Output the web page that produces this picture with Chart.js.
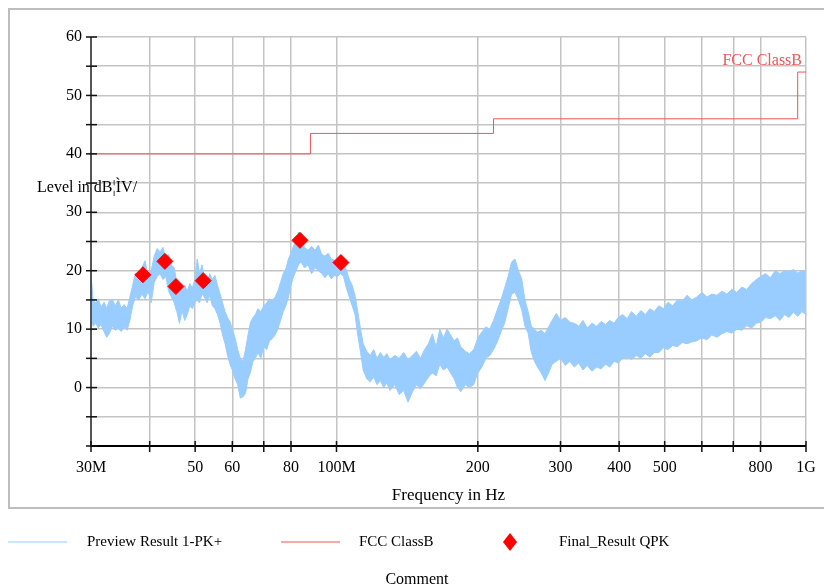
<!DOCTYPE html>
<html>
<head>
<meta charset="utf-8">
<script src="https://cdn.jsdelivr.net/npm/chart.js@4.4.1/dist/chart.umd.min.js"></script>
<style>
  html, body { margin: 0; padding: 0; background: #fff; }
  #wrap { position: relative; width: 824px; height: 588px; overflow: hidden; }
  #frame { position: absolute; left: 8px; top: 8px; width: 840px; height: 501px; border: 2px solid #bdbdbd; box-sizing: border-box; }
  #chart { position: absolute; left: 0; top: 0; }
</style>
</head>
<body>
<div id="wrap">
  <div id="frame"></div>
  <canvas id="chart" width="824" height="588"></canvas>
</div>
<script>
// Preview Result 1-PK+ : frequency (MHz) with upper / lower edge of the noisy trace (dBuV/m)
const previewFreq = [30, 30.3, 30.7, 31.1, 31.5, 32.0, 32.4, 32.8, 33.3, 33.8, 34.3, 34.8, 35.3, 35.8, 36.3, 36.8, 37.3, 37.9, 38.5, 39.1,
  39.7, 40.3, 40.9, 41.5, 42.1, 42.7, 43.3, 43.9, 44.5, 45.1, 45.7, 46.3, 46.9, 47.5, 48.1, 48.7, 49.3, 49.9, 50.5, 51.1,
  51.7, 52.3, 53, 53.7, 54.4, 55.1, 55.8, 56.5, 57.2, 57.9, 58.6, 59.3, 60, 60.8, 61.6, 62.4, 63.2, 64, 64.8, 65.6,
  66.4, 67.2, 68, 69, 70, 71, 72, 73, 74, 75, 76, 77, 78, 79, 80, 81, 82, 83, 84, 85.5,
  87, 88.5, 90, 91.5, 93, 94.5, 96, 97.5, 99, 100.5, 102, 103.5, 105, 106.5, 108, 109.5, 111, 112.5, 114, 116,
  118, 120, 122, 124, 126, 128, 130, 133, 136, 139, 142, 145, 148, 151, 154, 157, 160, 163, 166, 169,
  172, 175, 178, 181, 184, 188, 192, 196, 200, 204, 208, 212, 216, 220, 224, 228, 232, 236, 240, 244,
  248, 252, 256, 260, 264, 268, 273, 278, 283, 288, 294, 300, 307, 314, 321, 328, 335, 342, 350, 358,
  366, 374, 382, 390, 398, 407, 416, 425, 435, 445, 455, 465, 475, 486, 497, 508, 520, 532, 545, 558,
  571, 585, 600, 615, 630, 646, 662, 678, 695, 712, 730, 748, 766, 784, 800, 820, 840, 860, 880, 900,
  920, 940, 960, 980, 1000];
const previewHigh = [19.5, 15, 14.5, 15.2, 13.8, 14.6, 13.5, 14.8, 15.1, 14, 15, 13.6, 14.2, 13.5, 15.5, 17.5, 19.6, 18.8, 20.5, 21.7,
  19, 20, 22.5, 23.8, 23.2, 24, 22, 22.8, 21, 20.5, 18, 17.5, 16.8, 17.5, 16.5, 17.8, 17, 18.5, 22, 19.5,
  21, 19, 18, 19.5, 18.5, 19.2, 17.5, 16, 14.5, 13, 12, 11.3, 10, 8.5, 6.5, 5, 4.5, 6.5, 9, 11.2,
  12, 12.5, 13.5, 13, 14, 14.5, 15.2, 14.8, 15.5, 16.5, 18, 19.5, 20.3, 22, 23, 24.3, 25, 26.6, 25.5, 24,
  23.5, 24.2, 23.5, 24.4, 22.8, 22.5, 23, 22, 21.8, 21.5, 22.5, 21.5, 20, 18.5, 17.5, 15.8, 13, 10, 7.5, 6.2,
  5.5, 6.5, 5, 6, 5.2, 5.8, 4.8, 5.5, 5, 6, 4.8, 5.5, 6.2, 5, 6.5, 7.5, 9.2, 7, 10, 8.5,
  10, 9, 8, 8.5, 7, 6.2, 5.8, 6.5, 8.5, 9.5, 10.4, 10, 11.5, 13.3, 15, 17, 19, 21.5, 22, 20,
  18.6, 15, 13, 10.5, 10, 9.5, 9.8, 9.2, 10.4, 11.5, 12.7, 11.5, 12, 11.2, 11, 10.5, 11.5, 10.2, 11, 10.5,
  11.3, 10.8, 11.5, 11, 12, 12.5, 11.8, 13, 12.2, 13.2, 12.5, 13.5, 13, 14, 13.5, 14.6, 14, 15, 14.8, 15.8,
  15, 15.5, 16.3, 15.5, 16, 15.8, 16.5, 16, 16.8, 16.3, 17.2, 16.8, 17.8, 18.5, 19, 19.5, 18.8, 20, 19.5, 20,
  19.8, 20.2, 19.6, 20, 19.8];
const previewLow = [13, 10.5, 11, 10.2, 10.8, 9.5, 8.6, 9.2, 10.5, 9.8, 10.2, 9.6, 10.4, 9.8, 11.5, 14, 15.5, 15, 16, 15.2,
  16.5, 14.5, 18, 19, 19.5, 18.5, 19, 16.5, 15.5, 14.5, 13, 11, 13.2, 11.5, 12.5, 14, 13.5, 14.5, 15, 14.5,
  16, 15.5, 14.5, 15.8, 14, 13.5, 12.5, 11, 9, 7.5, 5.5, 4, 3, 1.5, 0.5, -1.8, -1.6, -1, 1.5, 2.7,
  4.5, 5, 6, 5, 7, 6.5, 8, 8.4, 9, 10, 11.5, 13, 14, 15.5, 17.5, 19, 20, 21, 21.5, 20.5,
  21, 19.5, 20.5, 20, 19.5, 18.8, 19.5, 18.6, 19.2, 19, 19.5, 19, 17, 15.5, 14, 12.5, 9, 6, 3, 1.5,
  1, 1.8, 0.5, 1.2, 0, 0.8, -0.5, 0.5, -1.2, -0.5, -2.5, -0.8, 0.5, -0.2, 0.8, 1.8, 2.5, 2, 4, 3,
  3.5, 2.5, 1.5, 0, -0.7, 0.5, 0, 0.5, 2.5, 3.5, 5, 5.5, 6.5, 7.8, 9.5, 11, 13.5, 16, 16.3, 15,
  13.3, 10.5, 9.3, 6, 4.5, 3.5, 2.5, 1.2, 2.5, 4, 4.5, 5, 3.8, 4.5, 3.5, 4.2, 3, 3.8, 2.8, 3.5,
  3.2, 4, 3.5, 4.5, 4.2, 5, 5.2, 4.8, 5.5, 5, 5.8, 5.2, 6, 6, 6.8, 6.5, 7.2, 7, 7.7, 7.5,
  7.8, 8, 8.5, 8.2, 9, 8.6, 9.2, 9.6, 9.3, 10, 9.8, 10.6, 10.2, 11, 11.2, 12, 11.8, 12.3, 11.5, 12.5,
  12, 12.9, 12.2, 13, 12.5];

// FCC ClassB limit
const limitFreq = [30, 88, 88, 216, 216, 960, 960, 1000];
const limitLevel = [40, 40, 43.5, 43.5, 46, 46, 54, 54];

// Final_Result QPK
const qpkFreq = [38.7, 43.1, 45.5, 52.0, 83.6, 102.2];
const qpkLevel = [19.3, 21.6, 17.3, 18.3, 25.2, 21.4];

// axis ticks
const xTickValues = [30, 40, 50, 60, 70, 80, 100, 200, 300, 400, 500, 600, 700, 800, 1000];
const xTickText = ['30M', '', '50', '60', '', '80', '100M', '200', '300', '400', '500', '', '', '800', '1G'];
const yTickValues = [-10, -5, 0, 5, 10, 15, 20, 25, 30, 35, 40, 45, 50, 55, 60];
const yTickText = ['', '', '0', '', '10', '', '20', '', '30', '', '40', '', '50', '', '60'];

const serif = '"Liberation Serif", "DejaVu Serif", serif';
const traceColor = '#99ccff';
const limitColor = '#f05555';

function pts(xs, ys) {
  return xs.map((v, i) => ({ x: v, y: ys[i] }));
}

const decor = {
  id: 'decor',
  afterDatasetsDraw(chart) {
    const ctx = chart.ctx;
    const a = chart.chartArea;
    const xs = chart.scales.x, ys = chart.scales.y;
    ctx.save();
    // axis lines
    ctx.lineWidth = 2;
    ctx.strokeStyle = '#555';
    ctx.beginPath(); ctx.moveTo(a.left, a.top); ctx.lineTo(a.left, a.bottom); ctx.stroke();
    ctx.strokeStyle = '#000';
    ctx.beginPath(); ctx.moveTo(a.left, a.bottom); ctx.lineTo(a.right, a.bottom); ctx.stroke();
    // tick marks crossing the axes
    ctx.lineWidth = 1.5;
    ctx.strokeStyle = '#111';
    yTickValues.forEach(v => {
      const py = ys.getPixelForValue(v);
      ctx.beginPath(); ctx.moveTo(a.left - 5, py); ctx.lineTo(a.left + 6, py); ctx.stroke();
    });
    xTickValues.forEach(v => {
      const px = xs.getPixelForValue(v);
      ctx.beginPath(); ctx.moveTo(px, a.bottom - 5); ctx.lineTo(px, a.bottom + 6); ctx.stroke();
    });

    // x tick labels
    ctx.textBaseline = 'middle';
    ctx.fillStyle = '#000';
    ctx.font = '16px ' + serif;
    ctx.textAlign = 'center';
    xTickValues.forEach((v, i) => {
      if (xTickText[i]) ctx.fillText(xTickText[i], xs.getPixelForValue(v), 468);
    });

    ctx.textAlign = 'left';
    ctx.fillText('Level in dB\u00A6\u00CCV/', 37, 188);

    ctx.textAlign = 'center';
    ctx.font = '17px ' + serif;
    ctx.fillText('Frequency in Hz', (a.left + a.right) / 2, 496);

    ctx.fillStyle = limitColor;
    ctx.font = '16px ' + serif;
    ctx.textAlign = 'right';
    ctx.fillText('FCC ClassB', 802, 61);

    // legend
    const ly = 542;
    ctx.lineWidth = 1;
    ctx.strokeStyle = traceColor;
    ctx.beginPath(); ctx.moveTo(8, ly); ctx.lineTo(67, ly); ctx.stroke();
    ctx.strokeStyle = limitColor;
    ctx.beginPath(); ctx.moveTo(281, ly); ctx.lineTo(340, ly); ctx.stroke();
    ctx.fillStyle = '#ff0000';
    ctx.beginPath();
    ctx.moveTo(510, ly - 9); ctx.lineTo(517, ly); ctx.lineTo(510, ly + 9); ctx.lineTo(503, ly);
    ctx.closePath(); ctx.fill();

    ctx.fillStyle = '#000';
    ctx.textAlign = 'left';
    ctx.font = '15px ' + serif;
    ctx.fillText('Preview Result 1-PK+', 87, ly);
    ctx.fillText('FCC ClassB', 359, ly);
    ctx.fillText('Final_Result QPK', 559, ly);
    ctx.textAlign = 'center';
    ctx.font = '16px ' + serif;
    ctx.fillText('Comment', 417, 580);
    ctx.restore();
  }
};

new Chart(document.getElementById('chart'), {
  type: 'line',
  data: {
    datasets: [
      {
        label: 'Final_Result QPK',
        data: pts(qpkFreq, qpkLevel),
        showLine: false,
        pointStyle: 'rectRot',
        pointRadius: 8,
        pointBackgroundColor: '#ff0000',
        pointBorderColor: '#ff0000',
        order: 0
      },
      {
        label: 'FCC ClassB',
        data: pts(limitFreq, limitLevel),
        borderColor: limitColor,
        borderWidth: 1,
        pointRadius: 0,
        fill: false,
        order: 1
      },
      {
        label: 'Preview Result 1-PK+',
        data: pts(previewFreq, previewHigh),
        borderColor: traceColor,
        backgroundColor: traceColor,
        borderWidth: 1,
        pointRadius: 0,
        fill: '+1',
        order: 2
      },
      {
        label: 'Preview low',
        data: pts(previewFreq, previewLow),
        borderColor: traceColor,
        borderWidth: 1,
        pointRadius: 0,
        fill: false,
        order: 3
      }
    ]
  },
  options: {
    responsive: false,
    animation: false,
    events: [],
    layout: { padding: { left: 0, right: 18, top: 37, bottom: 0 } },
    plugins: { legend: { display: false }, tooltip: { enabled: false } },
    scales: {
      x: {
        type: 'logarithmic',
        min: 30,
        max: 1000,
        afterBuildTicks: s => { s.ticks = xTickValues.map(v => ({ value: v })); },
        afterFit: s => { s.height = 142; },
        grid: { color: '#c4c4c4', lineWidth: 1.5, drawTicks: false },
        border: { display: false },
        ticks: { display: false }
      },
      y: {
        type: 'linear',
        min: -10,
        max: 60,
        afterBuildTicks: s => { s.ticks = yTickValues.map(v => ({ value: v })); },
        afterFit: s => { s.width = 91; },
        grid: { color: '#c4c4c4', lineWidth: 1.5, drawTicks: false },
        border: { display: false },
        ticks: {
          padding: 9,
          color: '#000', font: { family: serif, size: 16 },
          callback: (v, i) => yTickText[i]
        }
      }
    }
  },
  plugins: [decor]
});
</script>
</body>
</html>
